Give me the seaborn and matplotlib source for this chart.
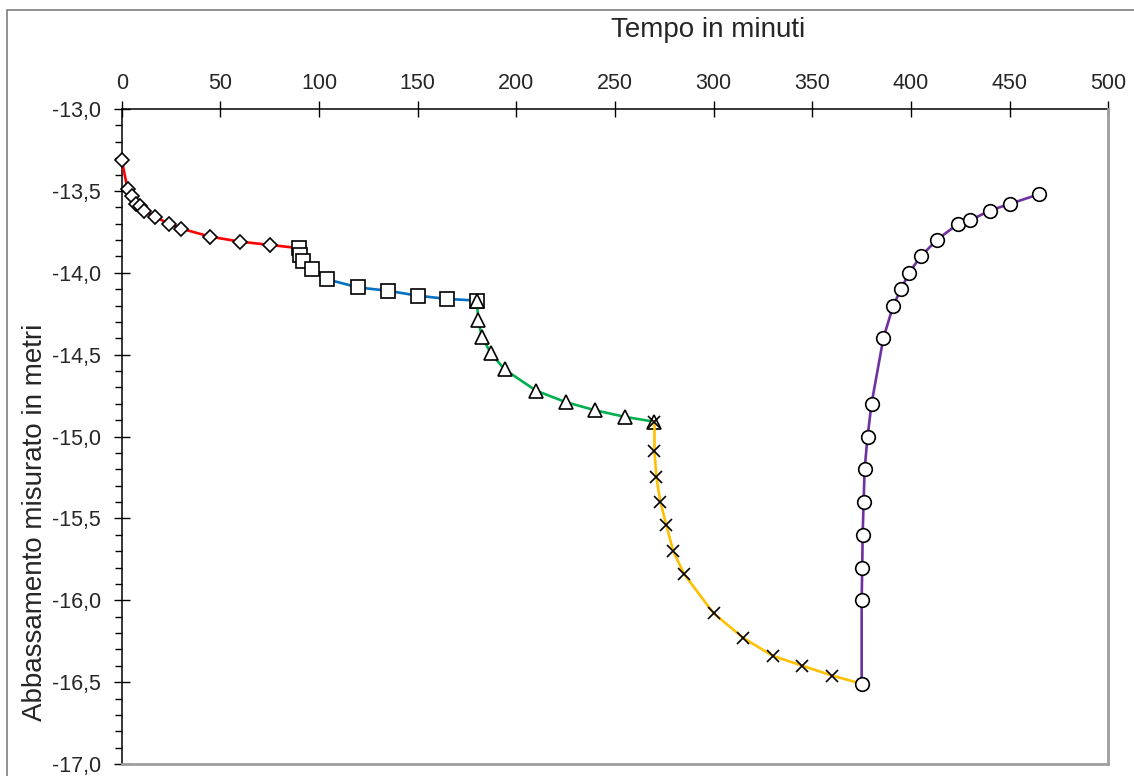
import matplotlib
matplotlib.use("Agg")
import matplotlib.pyplot as plt
from matplotlib.ticker import MultipleLocator, FuncFormatter
from matplotlib.patches import Rectangle
import seaborn as sns
import pandas as pd

# ---- data (time in minutes, drawdown in metres) ----
t1 = [0, 3, 5, 7.5, 9.5, 11.5, 17, 24, 30, 45, 60, 75]
y1 = [-13.31, -13.49, -13.53, -13.58, -13.59, -13.62, -13.66, -13.70, -13.73, -13.78, -13.81, -13.83]

t2 = [90, 90.5, 92, 96.5, 104, 120, 135, 150, 165, 180]
y2 = [-13.85, -13.89, -13.93, -13.98, -14.04, -14.09, -14.11, -14.14, -14.16, -14.17]

t3 = [180, 180.7, 182.5, 187, 194, 210, 225, 240, 255, 270]
y3 = [-14.17, -14.29, -14.39, -14.49, -14.59, -14.72, -14.79, -14.84, -14.88, -14.91]

t4 = [270, 270, 271, 273, 276, 279.5, 285, 300, 315, 330, 345, 360]
y4 = [-14.91, -15.09, -15.25, -15.40, -15.54, -15.70, -15.84, -16.08, -16.23, -16.34, -16.40, -16.46]

t5 = [375, 375, 375.3, 375.5, 376, 376.5, 378, 380, 386, 391, 395, 399, 405, 413, 424, 430, 440, 450, 465]
y5 = [-16.51, -16.0, -15.8, -15.6, -15.4, -15.2, -15.0, -14.8, -14.4, -14.2, -14.1, -14.0, -13.9, -13.8,
      -13.7, -13.68, -13.62, -13.58, -13.52]

x_ticks = [0, 50, 100, 150, 200, 250, 300, 350, 400, 450, 500]
y_major = [-17.0, -16.5, -16.0, -15.5, -15.0, -14.5, -14.0, -13.5, -13.0]

x_title = "Tempo in minuti"
y_title = "Abbassamento misurato in metri"

series = [
    (t1, y1, "#FF0000", "D", 7.2),
    (t2, y2, "#0070C0", "s", 9.6),
    (t3, y3, "#00B050", "^", 9.6),
    (t4, y4, "#FFC000", "x", 8.2),
    (t5, y5, "#7030A0", "o", 9.8),
]

sns.set_theme(style="white")
plt.rcParams["font.family"] = ["Liberation Sans", "DejaVu Sans"]

fig = plt.figure(figsize=(11.34, 7.76), dpi=100)
ax = fig.add_axes([121.7 / 1134, 1 - 764 / 776, (1108.3 - 121.7) / 1134, (764 - 109) / 776])

for i, (t, y, col, mk, ms) in enumerate(series):
    # connecting line (continues to the first point of the next step)
    lt, ly = list(t), list(y)
    if i + 1 < len(series):
        lt.append(series[i + 1][0][0])
        ly.append(series[i + 1][1][0])
    sns.lineplot(x=lt, y=ly, ax=ax, color=col, linewidth=1.9, sort=False, estimator=None, zorder=2 + 2 * i)
    df = pd.DataFrame({"t": t, "y": y})
    if mk == "x":
        sns.lineplot(data=df, x="t", y="y", ax=ax, sort=False, estimator=None, linestyle="",
                     marker="x", markersize=ms, markeredgecolor="black", markeredgewidth=1.2,
                     color="black", zorder=3 + 2 * i, clip_on=False)
    else:
        sns.lineplot(data=df, x="t", y="y", ax=ax, sort=False, estimator=None, linestyle="",
                     marker=mk, markersize=ms, markerfacecolor="white", markeredgecolor="black",
                     markeredgewidth=1.2, color="black", zorder=3 + 2 * i, clip_on=False)

ax.set_xlim(0, 500)
ax.set_ylim(-17, -13)
ax.set_xlabel("")
ax.set_ylabel("")

ax.xaxis.tick_top()
ax.set_xticks(x_ticks)
ax.set_yticks(y_major)
ax.yaxis.set_minor_locator(MultipleLocator(0.1))
ax.yaxis.set_major_formatter(FuncFormatter(lambda v, p: f"{v:.1f}".replace(".", ",")))

ax.tick_params(axis="x", which="major", direction="inout", length=12, width=1.0, color="black",
               top=True, bottom=False, labeltop=True, labelbottom=False, labelsize=15.5, pad=5)
ax.tick_params(axis="y", which="major", direction="inout", length=12, width=1.0, color="black",
               left=True, labelsize=15.5, pad=9)
ax.tick_params(axis="y", which="minor", direction="out", length=5, width=1.0, color="black", left=True)

for s in ["top", "left"]:
    ax.spines[s].set_color("black")
    ax.spines[s].set_linewidth(1.1)
    ax.spines[s].set_zorder(1)
for s in ["bottom", "right"]:
    ax.spines[s].set_color("#9E9E9E")
    ax.spines[s].set_linewidth(2.0)
ax.set_facecolor("white")
ax.grid(False)

fig.text(708 / 1134, 1 - 30 / 776, x_title, ha="center", va="center", fontsize=20)
fig.text(35 / 1134, 1 - 522 / 776, y_title, ha="center", va="center", rotation=90, fontsize=20)

# outer chart-area frame
fig.patches.append(Rectangle((7.3 / 1134, -0.2), 1.5, 0.2 + 1 - 10 / 776, transform=fig.transFigure,
                             fill=False, edgecolor="#7F7F7F", linewidth=1.2, zorder=0))

fig.savefig("out.png", dpi=100, facecolor="white")
